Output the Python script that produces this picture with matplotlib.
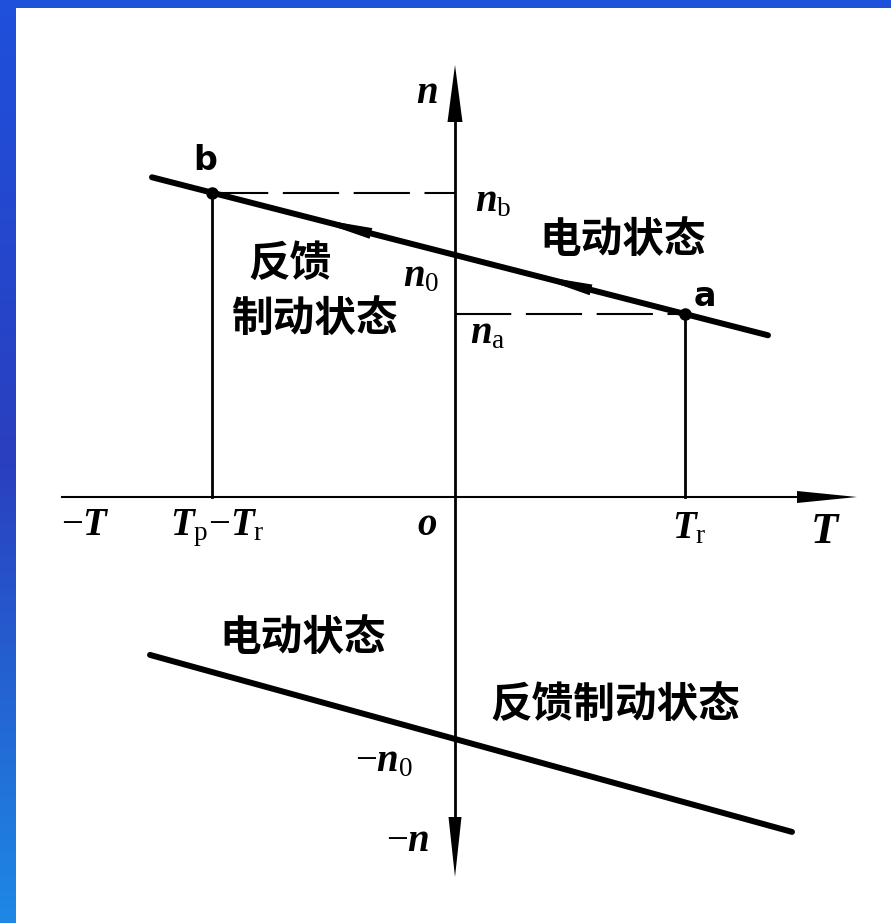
import numpy as np
import matplotlib.pyplot as plt
from matplotlib.patches import Polygon
from matplotlib.colors import LinearSegmentedColormap

plt.rcParams['mathtext.fontset'] = 'custom'
plt.rcParams['mathtext.rm'] = 'Liberation Serif'
plt.rcParams['mathtext.it'] = 'Liberation Serif:italic:bold'
plt.rcParams['mathtext.bf'] = 'Liberation Serif:bold'

# characteristics  n = n0 - k*T
n0_up = 242
k_up = 0.2565
T_up = [-303, 313]
n0_low = -242
k_low = 0.2757
T_low = [-305, 337]

T_p = -243
T_r = 230

T_axis = [-393, 402]
n_axis = [-380, 432]
mark_spans = [(-148, -82), (75, 138)]

cjk = 'Noto Sans CJK SC'


def n_up(T):
    return n0_up - k_up * np.asarray(T)


def n_low(T):
    return n0_low - k_low * np.asarray(T)


def head(ax, tip, d, length, width):
    d = np.asarray(d, float)
    d = d / np.hypot(*d)
    p = np.array([-d[1], d[0]])
    tip = np.asarray(tip, float)
    base = tip - d * length
    pts = [tip, base + p * width / 2, base - p * width / 2]
    ax.add_patch(Polygon(pts, closed=True, color='black', lw=0, zorder=5))


fig = plt.figure(figsize=(8.91, 9.23), dpi=100)
ax = fig.add_axes([0, 0, 1, 1])
ax.set_xlim(-455, 436)
ax.set_ylim(-426, 497)
ax.axis('off')

# axes
ax.plot([T_axis[0], T_axis[1] - 50], [0, 0], color='black', lw=1.5)
head(ax, (T_axis[1], 0), (1, 0), 60, 12)
ax.plot([0, 0], [n_axis[0] + 50, n_axis[1] - 50], color='black', lw=2.0)
head(ax, (0, n_axis[1]), (0, 1), 57, 15)
head(ax, (0, n_axis[0]), (0, -1), 60, 13)

# characteristic lines
ax.plot(T_up, n_up(T_up), color='black', lw=4.3, solid_capstyle='round')
ax.plot(T_low, n_low(T_low), color='black', lw=4.3, solid_capstyle='round')

# direction marks on the upper line
for t0, t1 in mark_spans:
    head(ax, (t0, n_up(t0)), (-1, k_up), t1 - t0, 11)

# operating points
nb = n_up(T_p)
na = n_up(T_r)
ax.plot([T_p, T_p], [0, nb], color='black', lw=2.0)
ax.plot([T_r, T_r], [0, na], color='black', lw=2.0)
ax.plot([T_p, 0], [nb, nb], color='black', lw=1.5, ls=(0, (27, 7)))
ax.plot([0, T_r], [na, na], color='black', lw=1.5, ls=(0, (27, 7)))
ax.plot([T_p, T_r], [nb, na], 'o', color='black', ms=8)

# labels
fs = 28
ax.text(-28, 405, r'$n$', fontsize=fs, ha='center', va='center')
ax.text(-250, 337, 'b', fontsize=24, family='DejaVu Sans', weight='bold', ha='center', va='center')
ax.text(250, 200, 'a', fontsize=24, family='DejaVu Sans', weight='bold', ha='center', va='center')
ax.text(20, 297, r'$n_\mathrm{b}$', fontsize=fs, ha='left', va='center')
ax.text(-52, 222, r'$n_0$', fontsize=fs, ha='left', va='center')
ax.text(15, 165, r'$n_\mathrm{a}$', fontsize=fs, ha='left', va='center')
ax.text(168, 257, '电动状态', fontsize=30, family=cjk, weight='bold', ha='center', va='center')
ax.text(-165, 233, '反馈', fontsize=30, family=cjk, weight='bold', ha='center', va='center')
ax.text(-141, 178, '制动状态', fontsize=30, family=cjk, weight='bold', ha='center', va='center')
ax.text(-370, -38, r'$-T$', fontsize=fs, ha='center', va='baseline')
ax.text(-238, -38, r'$T_\mathrm{p}{-}T_\mathrm{r}$', fontsize=fs, ha='center', va='baseline')
ax.text(-28, -38, r'$o$', fontsize=fs, ha='center', va='baseline')
ax.text(234, -41, r'$T_\mathrm{r}$', fontsize=fs, ha='center', va='baseline')
ax.text(370, -46, r'$T$', fontsize=32, ha='center', va='baseline')
ax.text(-152, -141, '电动状态', fontsize=30, family=cjk, weight='bold', ha='center', va='center')
ax.text(160, -208, '反馈制动状态', fontsize=30, family=cjk, weight='bold', ha='center', va='center')
ax.text(-100, -263, r'$-n_0$', fontsize=fs, ha='left', va='center')
ax.text(-25, -343, r'$-n$', fontsize=fs, ha='right', va='center')

# blue frame
cm = LinearSegmentedColormap.from_list('frame', ['#1f50dc', '#2a3fbf', '#1e88e5'])
side = fig.add_axes([0, 0, 16 / 891, 1])
side.imshow(np.linspace(0, 1, 256).reshape(-1, 1), cmap=cm, aspect='auto')
side.axis('off')
top = fig.add_axes([0, 1 - 8 / 923, 1, 8 / 923])
top.set_facecolor('#1f50dc')
top.set_xticks([])
top.set_yticks([])
for s in top.spines.values():
    s.set_visible(False)

fig.savefig('out.png', dpi=100)
